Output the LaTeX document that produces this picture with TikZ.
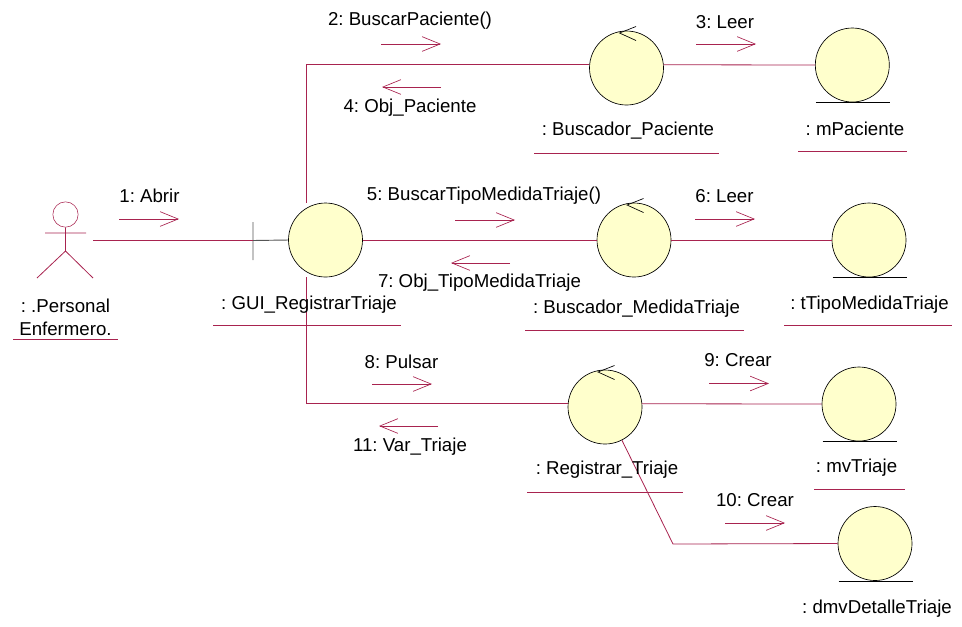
\documentclass[tikz,border=0pt]{standalone}
\usepackage{fontspec}
\setmainfont{Liberation Sans}
\usetikzlibrary{arrows.meta}
\definecolor{rel}{HTML}{A8234F}
\definecolor{body}{HTML}{FFFFCC}
\definecolor{bargrey}{HTML}{555555}
\tikzset{
  obj/.style={circle,draw=black,fill=body,line width=0.5pt,minimum size=55.5pt,inner sep=0pt},
  txt/.style={font=\fontsize{14}{16}\selectfont\frenchspacing,text=black,inner sep=0pt,anchor=center},
  link/.style={draw=rel,line width=0.6pt},
  under/.style={draw=rel,line width=0.5pt},
  msg/.style={draw=rel,line width=0.5pt,-{Straight Barb[length=13.5pt,width=11pt,line width=0.5pt]}},
  tick/.style={draw=black,line width=0.5pt}
}
\begin{document}
\begin{tikzpicture}[x=0.75pt,y=-0.75pt]
\useasboundingbox (0,0) rectangle (962,626);
\node[obj] (gui) at (325.5,240) {};
\node[obj] (bp) at (626.5,68) {};
\node[obj] (mp) at (852.3,65) {};
\node[obj] (bm) at (634,240) {};
\node[obj] (tt) at (869,240) {};
\node[obj] (rt) at (605,407) {};
\node[obj] (mv) at (859,404) {};
\node[obj] (dm) at (875,543.5) {};
% actor
\node[circle,draw=rel,fill=white,line width=0.4pt,minimum size=19pt,inner sep=0pt] (head) at (65.5,214.5) {};
\coordinate (hip) at (65.5,251);
\coordinate (armL) at (45,233);
\coordinate (armR) at (86,233);
\coordinate (legL) at (37,278);
\coordinate (legR) at (93,278);
\draw[link] (head.south) -- (hip) (armL) -- (armR) (hip) -- (legL) (hip) -- (legR);
% boundary bar
\coordinate (barT) at (253,222);
\coordinate (barB) at (253,260);
\coordinate (barM) at (253,240.5);
\coordinate (actorEnd) at (93,240.5);
\draw[draw=bargrey,line width=0.7pt] (barT) -- (barB) (barM) -- (gui.west);
\draw[link] (actorEnd) -- (barM);
% links
\coordinate (vx) at (306,0);
\draw[link] (vx|-gui.north) |- (bp.175);
\draw[link] (vx|-gui.south) |- (rt.175);
\draw[link] (gui.east) -- (bm.west);
\draw[link] (bp.5) -- (mp.west);
\draw[link] (bm.east) -- (tt.west);
\draw[link] (rt.5) -- (mv.west);
\coordinate (bend) at (673,544);
\draw[link] (rt.-63) -- (bend) -- (dm.west);
% controller marks
\foreach \n in {bp,bm,rt}{
  \draw[tick] ([shift={(9.5,-41.5)}]\n.center) -- ([shift={(-7,-35)}]\n.center) -- ([shift={(9.5,-27.5)}]\n.center);
}
% entity bars
\foreach \n in {mp,tt,mv,dm}{
  \draw[tick] ([shift={(-36.5,37.5)}]\n.center) -- ([shift={(37.5,37.5)}]\n.center);
}
% object labels
\node[txt] (lgui) at (309,304.5) {: GUI\_RegistrarTriaje};
\node[txt] (lbp) at (628,131) {: Buscador\_Paciente};
\node[txt] (lmp) at (855,129) {: mPaciente};
\node[txt] (lbm) at (636.5,309) {: Buscador\_MedidaTriaje};
\node[txt] (ltt) at (869.5,305) {: tTipoMedidaTriaje};
\node[txt] (lrt) at (607,470) {: Registrar\_Triaje};
\node[txt] (lmv) at (856.5,468) {: mvTriaje};
\node[txt] (ldm) at (877,609) {: dmvDetalleTriaje};
\node[txt] (la1) at (65.5,306) {: .Personal};
\node[txt] (la2) at (65.5,329) {Enfermero.};
% underlines
\foreach \a/\b/\y in {213/401/325,534/719/153,798/907/151,525/744/330,784/952/325,527/683/492,814/905/489,13/118/339}{
  \draw[under] (\a,\y) -- (\b,\y);
}
% messages
\foreach \a/\b/\y/\t/\lx/\ly in {
  119/179/219/{1: Abrir}/149.5/196,
  381/441/44/{2: BuscarPaciente()}/410/21,
  696/756/44/{3: Leer}/725/22,
  441/382/87/{4: Obj\_Paciente}/410/108,
  455/515/220/{5: BuscarTipoMedidaTriaje()}/484/196,
  695/755/219/{6: Leer}/724.5/196,
  510/451/263/{7: Obj\_TipoMedidaTriaje}/479.5/283,
  372/432/384/{8: Pulsar}/401.5/362,
  709/769/383.5/{9: Crear}/738/360.5,
  725/785/523/{10: Crear}/755/500,
  438/379/426/{11: Var\_Triaje}/410/447}{
  \coordinate (s) at (\a,\y);
  \coordinate (e) at (\b,\y);
  \draw[msg] (s) -- (e);
  \node[txt] at (\lx,\ly) {\t};
}
\end{tikzpicture}
\end{document}
